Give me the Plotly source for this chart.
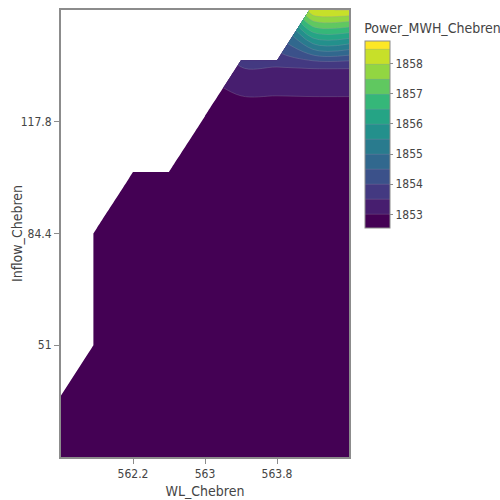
import plotly.graph_objects as go

# Reservoir water level (m) and inflow grid
wl_chebren = [561.4, 561.8, 562.2, 562.6, 563.0, 563.4, 563.8, 564.2, 564.6]
inflow_chebren = [17.6, 34.3, 51.0, 67.7, 84.4, 101.1, 117.8, 134.5, 151.2]

# Power output (MWh); None marks combinations with no record
N = None
power_mwh_chebren = [
    [1852.55, 1852.55, 1852.55, 1852.55, 1852.55, 1852.55, 1852.55, 1852.55, 1852.55],
    [1852.55, 1852.55, 1852.55, 1852.55, 1852.55, 1852.55, 1852.55, 1852.55, 1852.55],
    [N,       1852.55, 1852.55, 1852.55, 1852.55, 1852.55, 1852.55, 1852.55, 1852.55],
    [N,       1852.55, 1852.55, 1852.55, 1852.55, 1852.55, 1852.55, 1852.55, 1852.55],
    [N,       1852.55, 1852.55, 1852.55, 1852.55, 1852.55, 1852.55, 1852.55, 1852.55],
    [N,       N,       1852.55, 1852.55, 1852.55, 1852.55, 1852.55, 1852.55, 1852.55],
    [N,       N,       N,       N,       1852.55, 1852.55, 1852.55, 1852.55, 1852.55],
    [N,       N,       N,       N,       N,       1853.52, 1853.52, 1853.55, 1853.55],
    [N,       N,       N,       N,       N,       N,       N,       1858.47, 1858.52],
]

FONT = "DejaVu Sans Condensed, Verdana, DejaVu Sans, sans-serif"
AXIS_GRAY = "rgb(140,140,140)"

fig = go.Figure(
    go.Contour(
        x=wl_chebren,
        y=inflow_chebren,
        z=power_mwh_chebren,
        colorscale="Viridis",
        line=dict(color="rgba(150,150,170,0.6)", width=0.5),
        colorbar=dict(
            title=dict(text="Power_MWH_Chebren", side="top"),
            thickness=25,
            len=0.51,
            y=1,
            yanchor="top",
            outlinecolor=AXIS_GRAY,
            outlinewidth=1,
            ticks="outside",
            ticklen=3,
            tickcolor=AXIS_GRAY,
            dtick=1,
        ),
    )
)

axis_common = dict(
    showline=True,
    linecolor=AXIS_GRAY,
    linewidth=2,
    mirror=True,
    ticks="outside",
    ticklen=5,
    tickcolor=AXIS_GRAY,
    showgrid=False,
    zeroline=False,
)

fig.update_layout(
    template="none",
    width=500,
    height=500,
    margin=dict(l=61, r=151, t=10, b=43, autoexpand=False),
    paper_bgcolor="white",
    plot_bgcolor="white",
    font=dict(family=FONT, size=12, color="#444"),
    xaxis=dict(title=dict(text="WL_Chebren", standoff=6),
               tickvals=[562.2, 563.0, 563.8], ticktext=["562.2", "563", "563.8"],
               **axis_common),
    yaxis=dict(title=dict(text="Inflow_Chebren"),
               tickvals=[51.0, 84.4, 117.8], ticktext=["51", "84.4", "117.8"],
               **axis_common),
)

fig.write_html("out.html")
